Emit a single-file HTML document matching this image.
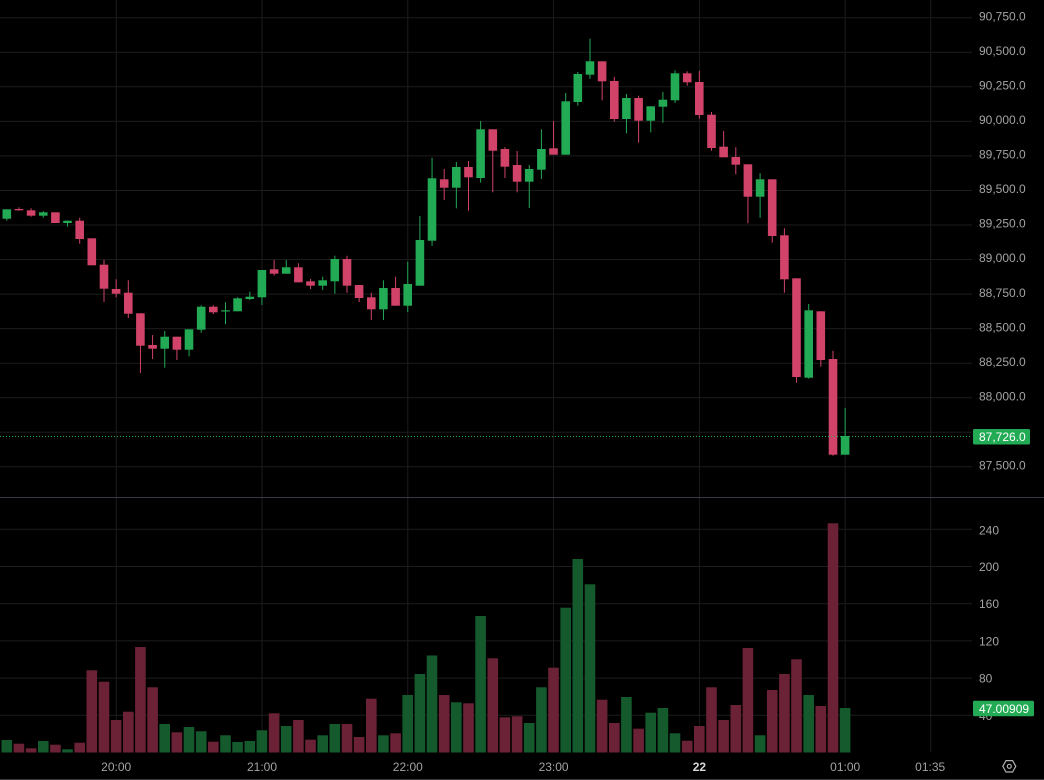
<!DOCTYPE html>
<html><head><meta charset="utf-8"><style>
html,body{margin:0;padding:0;background:#000;width:1044px;height:780px;overflow:hidden}
svg{display:block}
text{font-family:"Liberation Sans",sans-serif;font-size:12px;fill:#a3a3a3}
</style></head><body>
<svg width="1044" height="780" viewBox="0 0 1044 780" xmlns="http://www.w3.org/2000/svg">
<rect width="1044" height="780" fill="#000"/>
<!-- grid -->
<g stroke="#1c1c1e" stroke-width="1">
<line x1="0" x2="972" y1="17.8" y2="17.8"/><line x1="0" x2="972" y1="52.3" y2="52.3"/><line x1="0" x2="972" y1="86.8" y2="86.8"/><line x1="0" x2="972" y1="121.4" y2="121.4"/><line x1="0" x2="972" y1="155.9" y2="155.9"/><line x1="0" x2="972" y1="190.5" y2="190.5"/><line x1="0" x2="972" y1="225" y2="225"/><line x1="0" x2="972" y1="259.5" y2="259.5"/><line x1="0" x2="972" y1="294.1" y2="294.1"/><line x1="0" x2="972" y1="328.6" y2="328.6"/><line x1="0" x2="972" y1="363.2" y2="363.2"/><line x1="0" x2="972" y1="397.7" y2="397.7"/><line x1="0" x2="972" y1="432.3" y2="432.3"/><line x1="0" x2="972" y1="466.8" y2="466.8"/>
<line x1="0" x2="972" y1="529.3" y2="529.3"/><line x1="0" x2="972" y1="566.5" y2="566.5"/><line x1="0" x2="972" y1="603.7" y2="603.7"/><line x1="0" x2="972" y1="640.9" y2="640.9"/><line x1="0" x2="972" y1="678.1" y2="678.1"/><line x1="0" x2="972" y1="715.3" y2="715.3"/>
<line y1="0" y2="752" x1="116.2" x2="116.2"/><line y1="0" y2="752" x1="262" x2="262"/><line y1="0" y2="752" x1="407.8" x2="407.8"/><line y1="0" y2="752" x1="553.6" x2="553.6"/><line y1="0" y2="752" x1="699.4" x2="699.4"/><line y1="0" y2="752" x1="845.2" x2="845.2"/><line y1="0" y2="752" x1="930.7" x2="930.7"/>
</g>
<line x1="0" x2="1044" y1="497.5" y2="497.5" stroke="#3a3a42" stroke-width="1"/>
<line x1="0" x2="1044" y1="779.5" y2="779.5" stroke="#3a3a3e" stroke-width="1"/>

<!-- volume -->
<g fill="#155a2c">
<rect x="1.5" y="740" width="10.6" height="12.5"/><rect x="38" y="741" width="10.6" height="11.5"/><rect x="62.2" y="749.3" width="10.6" height="3.2"/><rect x="159.4" y="724" width="10.6" height="28.5"/><rect x="183.7" y="727" width="10.6" height="25.5"/><rect x="195.9" y="731.3" width="10.6" height="21.2"/><rect x="220.2" y="735.3" width="10.6" height="17.2"/><rect x="232.3" y="742" width="10.6" height="10.5"/><rect x="244.5" y="741" width="10.6" height="11.5"/><rect x="256.6" y="730.3" width="10.6" height="22.2"/><rect x="280.9" y="726" width="10.6" height="26.5"/><rect x="317.4" y="735.3" width="10.6" height="17.2"/><rect x="329.5" y="724" width="10.6" height="28.5"/><rect x="378.1" y="735.3" width="10.6" height="17.2"/><rect x="402.4" y="695" width="10.6" height="57.5"/><rect x="414.6" y="674" width="10.6" height="78.5"/><rect x="426.7" y="655.5" width="10.6" height="97"/><rect x="451" y="702.3" width="10.6" height="50.2"/><rect x="475.3" y="616" width="10.6" height="136.5"/><rect x="523.9" y="723" width="10.6" height="29.5"/><rect x="536.1" y="687.3" width="10.6" height="65.2"/><rect x="560.4" y="607.7" width="10.6" height="144.8"/><rect x="572.5" y="559" width="10.6" height="193.5"/><rect x="584.7" y="584.3" width="10.6" height="168.2"/><rect x="621.1" y="697" width="10.6" height="55.5"/><rect x="645.4" y="712.7" width="10.6" height="39.8"/><rect x="657.6" y="708" width="10.6" height="44.5"/><rect x="669.7" y="733.3" width="10.6" height="19.2"/><rect x="754.8" y="735.3" width="10.6" height="17.2"/><rect x="803.4" y="695" width="10.6" height="57.5"/><rect x="839.8" y="708" width="10.6" height="44.5"/>
</g>
<g fill="#6b2236">
<rect x="13.6" y="743.7" width="10.6" height="8.8"/><rect x="25.8" y="748.3" width="10.6" height="4.2"/><rect x="50.1" y="744.7" width="10.6" height="7.8"/><rect x="74.4" y="742.7" width="10.6" height="9.8"/><rect x="86.5" y="670.3" width="10.6" height="82.2"/><rect x="98.7" y="681.7" width="10.6" height="70.8"/><rect x="110.8" y="720" width="10.6" height="32.5"/><rect x="123" y="711.7" width="10.6" height="40.8"/><rect x="135.1" y="647" width="10.6" height="105.5"/><rect x="147.3" y="687.3" width="10.6" height="65.2"/><rect x="171.6" y="732.3" width="10.6" height="20.2"/><rect x="208" y="741.7" width="10.6" height="10.8"/><rect x="268.8" y="713.3" width="10.6" height="39.2"/><rect x="293.1" y="720" width="10.6" height="32.5"/><rect x="305.2" y="739.7" width="10.6" height="12.8"/><rect x="341.7" y="724" width="10.6" height="28.5"/><rect x="353.8" y="737" width="10.6" height="15.5"/><rect x="366" y="698.7" width="10.6" height="53.8"/><rect x="390.3" y="733.3" width="10.6" height="19.2"/><rect x="438.9" y="695" width="10.6" height="57.5"/><rect x="463.2" y="703.3" width="10.6" height="49.2"/><rect x="487.5" y="658.3" width="10.6" height="94.2"/><rect x="499.6" y="717.3" width="10.6" height="35.2"/><rect x="511.8" y="716.3" width="10.6" height="36.2"/><rect x="548.2" y="667.7" width="10.6" height="84.8"/><rect x="596.8" y="699.7" width="10.6" height="52.8"/><rect x="609" y="723" width="10.6" height="29.5"/><rect x="633.3" y="728.7" width="10.6" height="23.8"/><rect x="681.9" y="740.7" width="10.6" height="11.8"/><rect x="694" y="726" width="10.6" height="26.5"/><rect x="706.2" y="687.3" width="10.6" height="65.2"/><rect x="718.3" y="720" width="10.6" height="32.5"/><rect x="730.5" y="705" width="10.6" height="47.5"/><rect x="742.6" y="648" width="10.6" height="104.5"/><rect x="766.9" y="690" width="10.6" height="62.5"/><rect x="779.1" y="674" width="10.6" height="78.5"/><rect x="791.2" y="659.3" width="10.6" height="93.2"/><rect x="815.5" y="706" width="10.6" height="46.5"/><rect x="827.7" y="523.3" width="10.6" height="229.2"/>
</g>

<!-- green candles -->
<g fill="#22ab54" stroke="#22ab54" stroke-width="1">
<line x1="6.8" x2="6.8" y1="209.3" y2="220.7"/><rect x="2.5" y="209.3" width="8.6" height="9.4" stroke="none"/>
<line x1="43.25" x2="43.25" y1="211" y2="217.7"/><rect x="39" y="212.3" width="8.6" height="3.4" stroke="none"/>
<line x1="67.55" x2="67.55" y1="220.7" y2="226.7"/><rect x="63.2" y="220.7" width="8.6" height="2.3" stroke="none"/>
<line x1="164.75" x2="164.75" y1="331" y2="367.7"/><rect x="160.4" y="336.7" width="8.6" height="12" stroke="none"/>
<line x1="189.05" x2="189.05" y1="329.3" y2="356.3"/><rect x="184.7" y="329.3" width="8.6" height="20.4" stroke="none"/>
<line x1="201.2" x2="201.2" y1="305.3" y2="332.7"/><rect x="196.9" y="306.7" width="8.6" height="23" stroke="none"/>
<line x1="225.5" x2="225.5" y1="302.3" y2="324.3"/><rect x="221.2" y="310.3" width="8.6" height="1.2" stroke="none"/>
<line x1="237.65" x2="237.65" y1="297.3" y2="311.3"/><rect x="233.3" y="298.3" width="8.6" height="13" stroke="none"/>
<line x1="249.8" x2="249.8" y1="291.7" y2="300"/><rect x="245.5" y="296.7" width="8.6" height="2.3" stroke="none"/>
<line x1="261.95" x2="261.95" y1="270" y2="305"/><rect x="257.6" y="270" width="8.6" height="27.3" stroke="none"/>
<line x1="286.25" x2="286.25" y1="260" y2="273.7"/><rect x="281.9" y="267.3" width="8.6" height="6.4" stroke="none"/>
<line x1="322.7" x2="322.7" y1="276.7" y2="290"/><rect x="318.4" y="280.3" width="8.6" height="5.4" stroke="none"/>
<line x1="334.85" x2="334.85" y1="255.7" y2="293.7"/><rect x="330.5" y="259" width="8.6" height="22.3" stroke="none"/>
<line x1="383.45" x2="383.45" y1="280.3" y2="320"/><rect x="379.1" y="288" width="8.6" height="21.3" stroke="none"/>
<line x1="407.75" x2="407.75" y1="261.7" y2="312"/><rect x="403.4" y="284" width="8.6" height="21.7" stroke="none"/>
<line x1="419.9" x2="419.9" y1="216" y2="285.7"/><rect x="415.6" y="240" width="8.6" height="45.7" stroke="none"/>
<line x1="432.05" x2="432.05" y1="157.7" y2="245.7"/><rect x="427.7" y="178.3" width="8.6" height="62.4" stroke="none"/>
<line x1="456.35" x2="456.35" y1="162" y2="208.3"/><rect x="452" y="167" width="8.6" height="20.7" stroke="none"/>
<line x1="480.65" x2="480.65" y1="121" y2="182.7"/><rect x="476.3" y="129.3" width="8.6" height="48.7" stroke="none"/>
<line x1="529.25" x2="529.25" y1="165" y2="208"/><rect x="524.9" y="169" width="8.6" height="12.7" stroke="none"/>
<line x1="541.4" x2="541.4" y1="129.3" y2="179"/><rect x="537.1" y="149" width="8.6" height="20.7" stroke="none"/>
<line x1="565.7" x2="565.7" y1="93" y2="154.7"/><rect x="561.4" y="101.3" width="8.6" height="53.4" stroke="none"/>
<line x1="577.85" x2="577.85" y1="72" y2="105.7"/><rect x="573.5" y="74" width="8.6" height="28" stroke="none"/>
<line x1="590" x2="590" y1="38.7" y2="78.7"/><rect x="585.7" y="61.3" width="8.6" height="13.4" stroke="none"/>
<line x1="626.45" x2="626.45" y1="94" y2="133.3"/><rect x="622.1" y="98" width="8.6" height="21" stroke="none"/>
<line x1="650.75" x2="650.75" y1="106.3" y2="132.3"/><rect x="646.4" y="106.3" width="8.6" height="14.4" stroke="none"/>
<line x1="662.9" x2="662.9" y1="92" y2="122.7"/><rect x="658.6" y="99.7" width="8.6" height="7" stroke="none"/>
<line x1="675.05" x2="675.05" y1="70.3" y2="103"/><rect x="670.7" y="73.3" width="8.6" height="27" stroke="none"/>
<line x1="760.1" x2="760.1" y1="173.3" y2="217.7"/><rect x="755.8" y="179.3" width="8.6" height="17.4" stroke="none"/>
<line x1="808.7" x2="808.7" y1="304" y2="378.7"/><rect x="804.4" y="310.3" width="8.6" height="67.4" stroke="none"/>
<line x1="845.15" x2="845.15" y1="408" y2="454.7"/><rect x="840.8" y="436" width="8.6" height="18.7" stroke="none"/>
</g>
<!-- red candles -->
<g fill="#d2436a" stroke="#d2436a" stroke-width="1">
<line x1="18.95" x2="18.95" y1="207.3" y2="210.7"/><rect x="14.6" y="209" width="8.6" height="1.3" stroke="none"/>
<line x1="31.1" x2="31.1" y1="208.3" y2="216.7"/><rect x="26.8" y="210.3" width="8.6" height="5.4" stroke="none"/>
<rect x="51.1" y="212.3" width="8.6" height="10.7" stroke="none"/>
<line x1="79.7" x2="79.7" y1="217.7" y2="243.7"/><rect x="75.4" y="220.7" width="8.6" height="18.3" stroke="none"/>
<rect x="87.5" y="238.3" width="8.6" height="27" stroke="none"/>
<line x1="104" x2="104" y1="260" y2="302"/><rect x="99.7" y="264.7" width="8.6" height="24" stroke="none"/>
<line x1="116.15" x2="116.15" y1="279.3" y2="297.3"/><rect x="111.8" y="289" width="8.6" height="4.7" stroke="none"/>
<line x1="128.3" x2="128.3" y1="280.3" y2="318"/><rect x="124" y="292.7" width="8.6" height="21" stroke="none"/>
<line x1="140.45" x2="140.45" y1="313.3" y2="373"/><rect x="136.1" y="313.3" width="8.6" height="32.4" stroke="none"/>
<line x1="152.6" x2="152.6" y1="335" y2="359"/><rect x="148.3" y="345" width="8.6" height="3.7" stroke="none"/>
<line x1="176.9" x2="176.9" y1="336.7" y2="360"/><rect x="172.6" y="336.7" width="8.6" height="13" stroke="none"/>
<line x1="213.35" x2="213.35" y1="305.3" y2="314"/><rect x="209" y="306.7" width="8.6" height="5.6" stroke="none"/>
<line x1="274.1" x2="274.1" y1="260" y2="275.7"/><rect x="269.8" y="269.3" width="8.6" height="4.4" stroke="none"/>
<line x1="298.4" x2="298.4" y1="263.3" y2="282.3"/><rect x="294.1" y="267.3" width="8.6" height="15" stroke="none"/>
<line x1="310.55" x2="310.55" y1="279" y2="289"/><rect x="306.2" y="281.3" width="8.6" height="4.4" stroke="none"/>
<line x1="347" x2="347" y1="255.7" y2="292.7"/><rect x="342.7" y="259" width="8.6" height="26.7" stroke="none"/>
<line x1="359.15" x2="359.15" y1="285" y2="302"/><rect x="354.8" y="285" width="8.6" height="13" stroke="none"/>
<line x1="371.3" x2="371.3" y1="292.7" y2="320"/><rect x="367" y="297.3" width="8.6" height="12" stroke="none"/>
<line x1="395.6" x2="395.6" y1="276.7" y2="305.7"/><rect x="391.3" y="288" width="8.6" height="17.7" stroke="none"/>
<line x1="444.2" x2="444.2" y1="169" y2="200"/><rect x="439.9" y="179.3" width="8.6" height="8.4" stroke="none"/>
<line x1="468.5" x2="468.5" y1="161" y2="210.7"/><rect x="464.2" y="167" width="8.6" height="10.3" stroke="none"/>
<line x1="492.8" x2="492.8" y1="129.3" y2="192.3"/><rect x="488.5" y="129.3" width="8.6" height="21.4" stroke="none"/>
<line x1="504.95" x2="504.95" y1="147.3" y2="178"/><rect x="500.6" y="149" width="8.6" height="17.7" stroke="none"/>
<line x1="517.1" x2="517.1" y1="151" y2="192.3"/><rect x="512.8" y="165" width="8.6" height="16.7" stroke="none"/>
<line x1="553.55" x2="553.55" y1="121" y2="154.7"/><rect x="549.2" y="148.3" width="8.6" height="6.4" stroke="none"/>
<line x1="602.15" x2="602.15" y1="61.3" y2="100.3"/><rect x="597.8" y="61.3" width="8.6" height="20" stroke="none"/>
<line x1="614.3" x2="614.3" y1="77" y2="121.7"/><rect x="610" y="81" width="8.6" height="38" stroke="none"/>
<line x1="638.6" x2="638.6" y1="95.7" y2="142.7"/><rect x="634.3" y="98" width="8.6" height="22.7" stroke="none"/>
<line x1="687.2" x2="687.2" y1="71.3" y2="85.7"/><rect x="682.9" y="73.3" width="8.6" height="9" stroke="none"/>
<line x1="699.35" x2="699.35" y1="71" y2="118.7"/><rect x="695" y="82" width="8.6" height="33" stroke="none"/>
<line x1="711.5" x2="711.5" y1="112" y2="150.7"/><rect x="707.2" y="114.7" width="8.6" height="33.3" stroke="none"/>
<line x1="723.65" x2="723.65" y1="131" y2="157.3"/><rect x="719.3" y="146.7" width="8.6" height="10.6" stroke="none"/>
<line x1="735.8" x2="735.8" y1="147.3" y2="174.3"/><rect x="731.5" y="157" width="8.6" height="7.7" stroke="none"/>
<line x1="747.95" x2="747.95" y1="164.3" y2="223.3"/><rect x="743.6" y="164.3" width="8.6" height="32.4" stroke="none"/>
<line x1="772.25" x2="772.25" y1="179.3" y2="242.7"/><rect x="767.9" y="179.3" width="8.6" height="56.7" stroke="none"/>
<line x1="784.4" x2="784.4" y1="228.3" y2="292.7"/><rect x="780.1" y="235.3" width="8.6" height="44" stroke="none"/>
<line x1="796.55" x2="796.55" y1="278.3" y2="382.7"/><rect x="792.2" y="278.3" width="8.6" height="98.7" stroke="none"/>
<line x1="820.85" x2="820.85" y1="311.3" y2="366.7"/><rect x="816.5" y="311.3" width="8.6" height="48.7" stroke="none"/>
<line x1="833" x2="833" y1="350.7" y2="455.7"/><rect x="828.7" y="359" width="8.6" height="95.7" stroke="none"/>
</g>

<!-- last price line -->
<line x1="0" x2="972" y1="436.5" y2="436.5" stroke="#22ab54" stroke-width="1" stroke-dasharray="1 2"/>

<!-- price axis labels -->
<g>
<text x="979" y="20.5">90,750.0</text>
<text x="979" y="55">90,500.0</text>
<text x="979" y="89.5">90,250.0</text>
<text x="979" y="124.1">90,000.0</text>
<text x="979" y="158.6">89,750.0</text>
<text x="979" y="193.2">89,500.0</text>
<text x="979" y="227.7">89,250.0</text>
<text x="979" y="262.2">89,000.0</text>
<text x="979" y="296.8">88,750.0</text>
<text x="979" y="331.3">88,500.0</text>
<text x="979" y="365.9">88,250.0</text>
<text x="979" y="400.4">88,000.0</text>
<text x="979" y="469.5">87,500.0</text>
</g>
<rect x="973" y="429" width="57" height="15.5" rx="1.5" fill="#22ab54"/>
<text x="979" y="441" style="fill:#fff">87,726.0</text>

<!-- volume axis labels -->
<g>
<text x="979" y="534.3">240</text>
<text x="979" y="571">200</text>
<text x="979" y="608.2">160</text>
<text x="979" y="645.4">120</text>
<text x="979" y="682.6">80</text>
<text x="979" y="719.8">40</text>
</g>
<rect x="973" y="700.7" width="61" height="15.6" rx="1.5" fill="#22ab54"/>
<text x="979" y="712.8" style="fill:#fff">47.00909</text>

<!-- time axis -->
<g text-anchor="middle">
<text x="116.2" y="771">20:00</text>
<text x="262" y="771">21:00</text>
<text x="407.8" y="771">22:00</text>
<text x="553.6" y="771">23:00</text>
<text x="699.4" y="771" style="fill:#d8d8d8;font-weight:bold">22</text>
<text x="845.2" y="771">01:00</text>
<text x="930.2" y="771">01:35</text>
</g>

<!-- settings icon -->
<g fill="none" stroke="#b0b0b0" stroke-width="1.2">
<polygon points="1002.8,766.3 1006,760.6 1012.6,760.6 1015.8,766.3 1012.6,772 1006,772"/>
<circle cx="1009.3" cy="766.3" r="2"/>
</g>
</svg>
</body></html>
